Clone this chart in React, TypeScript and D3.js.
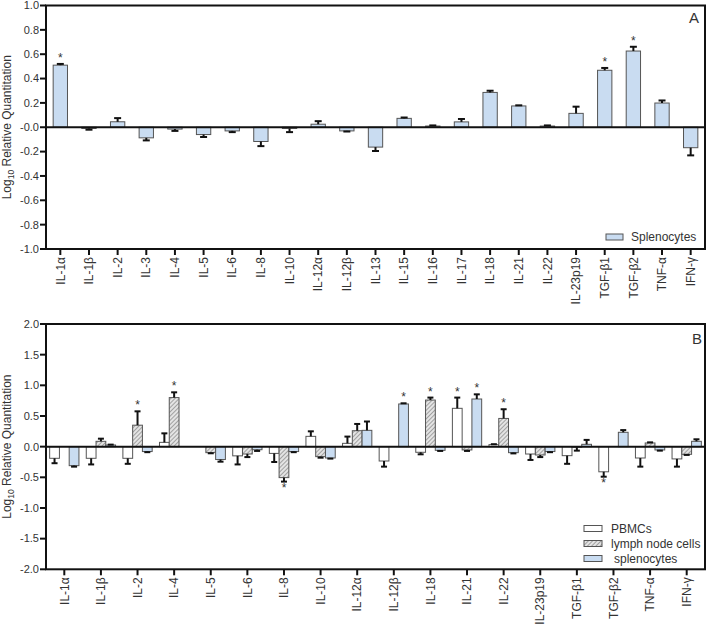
import React from 'react';
import * as d3 from 'd3';

// ---------- Panel A data ----------
const catsA = ['IL-1α','IL-1β','IL-2','IL-3','IL-4','IL-5','IL-6','IL-8','IL-10','IL-12α','IL-12β','IL-13','IL-15','IL-16','IL-17','IL-18','IL-21','IL-22','IL-23p19','TGF-β1','TGF-β2','TNF-α','IFN-γ'];
const splenoA = [0.51,-0.01,0.045,-0.087,-0.015,-0.06,-0.03,-0.117,-0.01,0.025,-0.03,-0.163,0.073,0.01,0.044,0.286,0.175,0.01,0.114,0.468,0.626,0.199,-0.168];
const splenoAErr = [0.01,0.01,0.03,0.021,0.015,0.02,0.01,0.038,0.03,0.025,0.005,0.032,0.007,0.005,0.024,0.014,0.005,0.005,0.055,0.019,0.035,0.021,0.063];
const sigA = ['IL-1α','TGF-β1','TGF-β2'];
const ticksA = [1.0,0.8,0.6,0.4,0.2,0,-0.2,-0.4,-0.6,-0.8,-1.0];
const tickLabelsA = ['1.0','0.8','0.6','0.4','0.2','-0.0','-0.2','-0.4','-0.6','-0.8','-1.0'];

// ---------- Panel B data ----------
const catsB = ['IL-1α','IL-1β','IL-2','IL-4','IL-5','IL-6','IL-8','IL-10','IL-12α','IL-12β','IL-18','IL-21','IL-22','IL-23p19','TGF-β1','TGF-β2','TNF-α','IFN-γ'];
const seriesB = ['PBMCs','lymph node cells','splenocytes'];
const pbmc = [-0.19,-0.19,-0.19,0.07,0,-0.15,-0.11,0.168,0.054,-0.234,-0.092,0.625,0.033,-0.12,-0.147,-0.41,-0.185,-0.2];
const pbmcErr = [0.08,0.1,0.09,0.147,0,0.14,0.14,0.082,0.11,0.092,0.033,0.175,0.007,0.097,0.133,0.08,0.141,0.126];
const lymph = [0,0.087,0.35,0.8,-0.098,-0.12,-0.505,-0.163,0.26,0,0.76,-0.054,0.46,-0.136,-0.01,0,0.06,-0.125];
const lymphErr = [0,0.043,0.226,0.086,0.01,0.05,0.065,0.017,0.11,0,0.04,0.016,0.15,0.034,0.055,0,0.01,0.01];
const spleno = [-0.31,0.027,-0.08,0,-0.21,-0.05,-0.08,-0.185,0.266,0.696,-0.06,0.777,-0.098,-0.08,0.038,0.234,-0.054,0.087];
const splenoErr = [0.016,0.006,0.01,0,0.035,0.02,0.01,0.01,0.144,0.011,0.01,0.076,0.012,0.01,0.072,0.036,0.011,0.033];
const sigPbmc = ['IL-21','TGF-β2'];
const sigLymph = ['IL-2','IL-4','IL-8','IL-18','IL-22'];
const sigSpleno = ['IL-12β','IL-21'];
const ticksB = [2.0,1.5,1.0,0.5,0,-0.5,-1.0,-1.5,-2.0];
const tickLabelsB = ['2.0','1.5','1.0','0.5','0.0','-0.5','-1.0','-1.5','-2.0'];

const FONT = '"Liberation Sans", Arial, Helvetica, sans-serif';
const BLUE = '#c9dcf1';
const TXT = '#333';

function ErrBar({ x, y0, y1, cap }: { x: number; y0: number; y1: number; cap: number }) {
  return (
    <g stroke="#111" strokeWidth={2}>
      <line x1={x} x2={x} y1={y0} y2={y1} />
      <line x1={x - cap} x2={x + cap} y1={y1} y2={y1} />
    </g>
  );
}

function YTitle({ cx, cy }: { cx: number; cy: number }) {
  return (
    <text transform={`translate(${cx},${cy}) rotate(-90)`} textAnchor="middle" fontSize={12} fill={TXT} fontFamily={FONT}>
      Log<tspan fontSize={8.5} dy={3}>10</tspan><tspan dy={-3}> Relative Quantitation</tspan>
    </text>
  );
}

export default function App() {
  // Panel A
  const axL = 46, axR = 705;
  const aTop = 5.5, aBot = 249;
  const xA = d3.scaleBand<string>().domain(catsA).range([axL, axR]).paddingInner(0.5).paddingOuter(0.25);
  const yA = d3.scaleLinear().domain([-1, 1]).range([aBot, aTop]);

  // Panel B
  const bTop = 324, bBot = 569.3;
  const xB = d3.scaleBand<string>().domain(catsB).range([axL, axR]).paddingInner(0.2).paddingOuter(0.1);
  const xSub = d3.scaleBand<string>().domain(seriesB).range([0, xB.bandwidth()]);
  const yB = d3.scaleLinear().domain([-2, 2]).range([bBot, bTop]);
  const valsB = [pbmc, lymph, spleno];
  const errsB = [pbmcErr, lymphErr, splenoErr];
  const sigsB = [sigPbmc, sigLymph, sigSpleno];
  const fillsB = ['#ffffff', 'url(#hatch)', BLUE];

  return (
    <svg width={707} height={625} style={{ position: 'absolute', left: 0, top: 0, background: '#fff' }} fontFamily={FONT}>
      <defs>
        <pattern id="hatch" patternUnits="userSpaceOnUse" width={3} height={3} patternTransform="rotate(45)">
          <rect width={3} height={3} fill="#e4e4e4" />
          <line x1={0} y1={0} x2={0} y2={3} stroke="#6a6a6a" strokeWidth={1.1} />
        </pattern>
      </defs>

      {/* ===== Panel A ===== */}
      <g>
        {catsA.map((c, i) => {
          const v = splenoA[i];
          const e = splenoAErr[i];
          const x = xA(c)!;
          const w = xA.bandwidth();
          const cx = x + w / 2;
          const yv = yA(v), y0 = yA(0);
          const yEnd = yA(v >= 0 ? v + e : v - e);
          const sig = sigA.includes(c);
          return (
            <g key={c}>
              <rect x={x} y={Math.min(yv, y0)} width={w} height={Math.abs(yv - y0)} fill={BLUE} stroke="#555" strokeWidth={1} />
              <ErrBar x={cx} y0={yv} y1={yEnd} cap={3.5} />
              {sig && (
                <text x={cx} y={v >= 0 ? yEnd - 2 : yEnd + 9} textAnchor="middle" fontSize={12} fill={TXT}>*</text>
              )}
            </g>
          );
        })}
        <line x1={axL} x2={axR} y1={yA(0)} y2={yA(0)} stroke="#111" strokeWidth={2} />
        <rect x={axL} y={aTop} width={axR - axL} height={aBot - aTop} fill="none" stroke="#111" strokeWidth={2} />
        {ticksA.map((t, i) => (
          <g key={t}>
            <line x1={axL - 6} x2={axL} y1={yA(t)} y2={yA(t)} stroke="#111" strokeWidth={2} />
            <text x={axL - 7} y={yA(t)} dy="0.35em" textAnchor="end" fontSize={11} fill={TXT}>{tickLabelsA[i]}</text>
          </g>
        ))}
        {catsA.map((c) => {
          const cx = xA(c)! + xA.bandwidth() / 2;
          return (
            <g key={c}>
              <line x1={cx} x2={cx} y1={aBot} y2={aBot + 6} stroke="#111" strokeWidth={2} />
              <text transform={`translate(${cx},${aBot + 8}) rotate(-90)`} dy="0.35em" textAnchor="end" fontSize={12} fill={TXT}>{c}</text>
            </g>
          );
        })}
        <YTitle cx={11} cy={(aTop + aBot) / 2} />
        <text x={699} y={23} textAnchor="end" fontSize={15} fill={TXT}>A</text>
        <rect x={606} y={234} width={17} height={6} fill={BLUE} stroke="#555" strokeWidth={1} />
        <text x={631} y={237} dy="0.35em" fontSize={12} fill={TXT}>Splenocytes</text>
      </g>

      {/* ===== Panel B ===== */}
      <g>
        {catsB.map((c, i) => (
          <g key={c}>
            {seriesB.map((s, k) => {
              const v = valsB[k][i];
              const e = errsB[k][i];
              const x = xB(c)! + xSub(s)!;
              const w = xSub.bandwidth();
              const cx = x + w / 2;
              const yv = yB(v), y0 = yB(0);
              const yEnd = yB(v >= 0 ? v + e : v - e);
              const sig = sigsB[k].includes(c);
              if (v === 0 && e === 0) return null;
              return (
                <g key={s}>
                  <rect x={x} y={Math.min(yv, y0)} width={w} height={Math.abs(yv - y0)} fill={fillsB[k]} stroke="#555" strokeWidth={1} />
                  <ErrBar x={cx} y0={yv} y1={yEnd} cap={3} />
                  {sig && (
                    <text x={cx} y={v >= 0 ? yEnd - 2 : yEnd + 10} textAnchor="middle" fontSize={12} fill={TXT}>*</text>
                  )}
                </g>
              );
            })}
          </g>
        ))}
        <line x1={axL} x2={axR} y1={yB(0)} y2={yB(0)} stroke="#111" strokeWidth={2} />
        <rect x={axL} y={bTop} width={axR - axL} height={bBot - bTop} fill="none" stroke="#111" strokeWidth={2} />
        {ticksB.map((t, i) => (
          <g key={t}>
            <line x1={axL - 6} x2={axL} y1={yB(t)} y2={yB(t)} stroke="#111" strokeWidth={2} />
            <text x={axL - 7} y={yB(t)} dy="0.35em" textAnchor="end" fontSize={11} fill={TXT}>{tickLabelsB[i]}</text>
          </g>
        ))}
        {catsB.map((c) => {
          const cx = xB(c)! + xB.bandwidth() / 2;
          return (
            <g key={c}>
              <line x1={cx} x2={cx} y1={bBot} y2={bBot + 6} stroke="#111" strokeWidth={2} />
              <text transform={`translate(${cx},${bBot + 8}) rotate(-90)`} dy="0.35em" textAnchor="end" fontSize={12} fill={TXT}>{c}</text>
            </g>
          );
        })}
        <YTitle cx={11} cy={(bTop + bBot) / 2} />
        <text x={702} y={344} textAnchor="end" fontSize={15} fill={TXT}>B</text>
        {seriesB.map((s, k) => (
          <g key={s}>
            <rect x={584} y={525.5 + k * 15} width={18} height={6} fill={fillsB[k]} stroke="#555" strokeWidth={1} />
            <text x={k === 2 ? 614 : 611} y={528.5 + k * 15} dy="0.35em" fontSize={12} fill={TXT}>{s}</text>
          </g>
        ))}
      </g>
    </svg>
  );
}
